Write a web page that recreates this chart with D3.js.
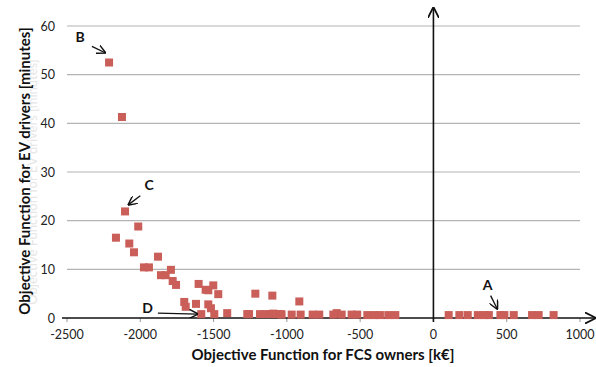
<!DOCTYPE html>
<html>
<head>
<meta charset="utf-8">
<script src="https://cdn.jsdelivr.net/npm/d3@7"></script>
<style>
  body { margin: 0; background: #fff; }
  svg { font-family: Lato, "Open Sans", sans-serif; }
  .tick-label { font-size: 12.5px; fill: #222; }
  .axis-title { font-size: 15px; font-weight: bold; fill: #111; }
  .ghost { font-size: 13px; fill: #e6e6e6; }
  .note { font-size: 14px; font-weight: bold; fill: #111; }
</style>
</head>
<body>
<svg id="chart"></svg>
<script>
// FCS owners objective [k€] vs EV drivers objective [minutes]
const fcsCost = [
  -2213, -2125, -2104, -2014, -2166, -2075, -2043, -1975, -1941, -1879,
  -1859, -1827, -1791, -1779, -1756, -1700, -1690, -1620, -1602, -1584,
  -1554, -1536, -1536, -1518, -1502, -1495, -1468, -1407, -1270, -1258,
  -1215, -1183, -1143, -1110, -1099, -1093, -1070, -1042, -1036, -967,
  -915, -906, -824, -779, -683, -660, -626, -558, -520, -451,
  -406, -365, -308, -260, 104, 177, 234, 303, 348, 378,
  457, 484, 548, 673, 718, 820,
];
const evMinutes = [
  52.5, 41.3, 21.9, 18.8, 16.5, 15.3, 13.5, 10.4, 10.4, 12.6,
  8.8, 8.8, 9.9, 7.6, 6.8, 3.3, 2.3, 2.9, 7.0, 0.8,
  5.8, 5.7, 2.8, 2.0, 6.7, 0.8, 4.9, 1.0, 0.8, 0.8,
  5.0, 0.8, 0.8, 0.8, 4.6, 0.9, 0.8, 0.8, 0.7, 0.7,
  3.4, 0.7, 0.7, 0.7, 0.7, 1.0, 0.7, 0.7, 0.7, 0.6,
  0.6, 0.6, 0.6, 0.6, 0.6, 0.6, 0.6, 0.6, 0.6, 0.6,
  0.6, 0.6, 0.6, 0.6, 0.6, 0.6,
];

const xTicks = [-2500, -2000, -1500, -1000, -500, 0, 500, 1000];
const yTicks = [0, 10, 20, 30, 40, 50, 60];

// labelled solutions: letter, the point it marks, and where the label sits
const noteLabels = ["B", "C", "D", "A"];
const noteTarget = [[-2240, 54.5], [-2080, 23.3], [-1610, 0.8], [435, 1.9]];
const noteText = [[-2410, 56.8], [-1940, 26.3], [-1950, 1.1], [370, 5.8]];

const WIDTH = 596;
const HEIGHT = 367;
const MARGINS = { left: 67, right: 16, top: 26, bottom: 49 };

const svg = d3.select("#chart").attr("width", WIDTH).attr("height", HEIGHT);

const x = d3.scaleLinear()
  .domain([-2500, 1000])
  .range([MARGINS.left, 580]);

const y = d3.scaleLinear()
  .domain([0, 60])
  .range([HEIGHT - MARGINS.bottom, MARGINS.top]);

const defs = svg.append("defs");
defs.append("marker")
  .attr("id", "arrow")
  .attr("viewBox", "0 0 10 10")
  .attr("refX", 9)
  .attr("refY", 5)
  .attr("markerWidth", 7)
  .attr("markerHeight", 7)
  .attr("orient", "auto")
  .append("path")
  .attr("d", "M0,0 L10,5 L0,10")
  .attr("fill", "none")
  .attr("stroke", "#111")
  .attr("stroke-width", 1.6);

// gridlines
svg.append("g")
  .selectAll("line")
  .data(yTicks.filter((d) => d > 0))
  .join("line")
  .attr("x1", x(-2500))
  .attr("x2", x(1000))
  .attr("y1", (d) => y(d))
  .attr("y2", (d) => y(d))
  .attr("stroke", "#b4b4b4")
  .attr("stroke-width", 1.2);

// y tick labels
svg.append("g")
  .selectAll("text")
  .data(yTicks)
  .join("text")
  .attr("class", "tick-label")
  .attr("x", x(-2500) - 12)
  .attr("y", (d) => y(d) + 4.5)
  .attr("text-anchor", "end")
  .text((d) => d);

// x tick marks + labels
const xt = svg.append("g");
xt.selectAll("line")
  .data(xTicks)
  .join("line")
  .attr("x1", (d) => x(d))
  .attr("x2", (d) => x(d))
  .attr("y1", y(0))
  .attr("y2", y(0) + 4)
  .attr("stroke", "#999");
xt.selectAll("text")
  .data(xTicks)
  .join("text")
  .attr("class", "tick-label")
  .attr("x", (d) => x(d))
  .attr("y", y(0) + 21)
  .attr("text-anchor", "middle")
  .text((d) => d);

// axes with arrow heads
svg.append("line")
  .attr("x1", x(-2500) - 5)
  .attr("x2", WIDTH - 1)
  .attr("y1", y(0))
  .attr("y2", y(0))
  .attr("stroke", "#111")
  .attr("stroke-width", 1.6)
  .attr("marker-end", "url(#arrow)");

svg.append("line")
  .attr("x1", x(0))
  .attr("x2", x(0))
  .attr("y1", y(0) + 4)
  .attr("y2", 8)
  .attr("stroke", "#111")
  .attr("stroke-width", 1.6)
  .attr("marker-end", "url(#arrow)");

// points
const size = 8;
svg.append("g")
  .selectAll("rect")
  .data(fcsCost.map((v, i) => [v, evMinutes[i]]))
  .join("rect")
  .attr("x", (d) => x(d[0]) - size / 2)
  .attr("y", (d) => y(d[1]) - size / 2)
  .attr("width", size)
  .attr("height", size)
  .attr("fill", "#c95f58");

// annotations
const notes = svg.append("g");
noteLabels.forEach((label, i) => {
  const [tx, ty] = noteText[i];
  notes.append("text")
    .attr("class", "note")
    .attr("x", x(tx))
    .attr("y", y(ty))
    .attr("text-anchor", "middle")
    .text(label);
});

// arrows from label to point (start offsets picked per label)
const arrowStart = [[-2330, 55.8], [-2000, 25.1], [-1880, 1.0], [390, 4.6]];
noteTarget.forEach(([px, py], i) => {
  notes.append("line")
    .attr("x1", x(arrowStart[i][0]))
    .attr("y1", y(arrowStart[i][1]))
    .attr("x2", x(px))
    .attr("y2", y(py))
    .attr("stroke", "#111")
    .attr("stroke-width", 1.3)
    .attr("marker-end", "url(#arrow)");
});

// axis titles (faint ghost copy behind the y title, as in the scan)
svg.append("text")
  .attr("class", "ghost")
  .attr("transform", `translate(37, ${y(30) + 10}) rotate(-90)`)
  .attr("text-anchor", "middle")
  .text("Objective Function for EV drivers [minutes]");

svg.append("text")
  .attr("class", "axis-title")
  .attr("x", 323)
  .attr("y", 360)
  .attr("text-anchor", "middle")
  .text("Objective Function for FCS owners [k€]");

svg.append("text")
  .attr("class", "axis-title")
  .attr("transform", `translate(30, ${y(30) - 1}) rotate(-90)`)
  .attr("text-anchor", "middle")
  .text("Objective Function for EV drivers [minutes]");
</script>
</body>
</html>
